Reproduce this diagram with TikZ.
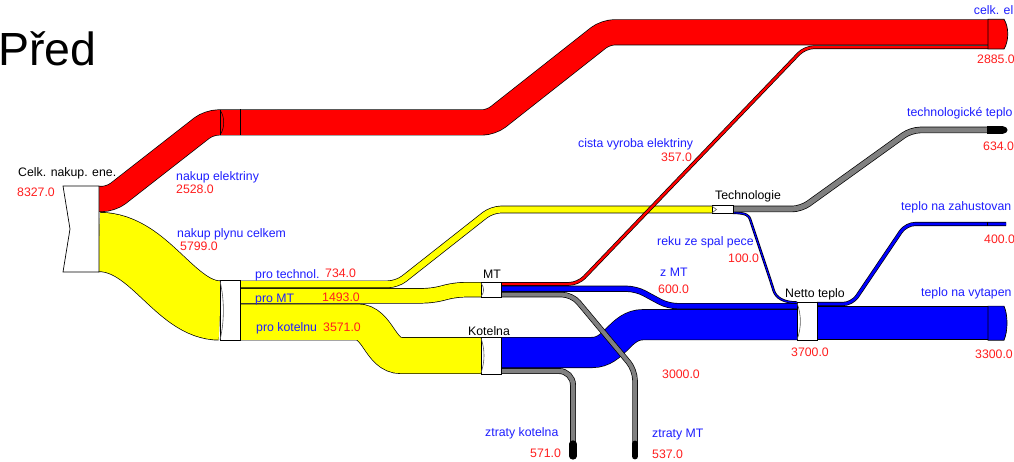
\documentclass[tikz,border=0pt]{standalone}
\usepackage{fontspec}
\setmainfont{Liberation Sans}
\definecolor{cred}{RGB}{255,0,0}
\definecolor{cyel}{RGB}{255,255,0}
\definecolor{cblue}{RGB}{0,0,255}
\definecolor{cgray}{RGB}{128,128,128}
\definecolor{lblue}{RGB}{30,30,255}
\definecolor{lred}{RGB}{255,30,30}
\begin{document}
\begin{tikzpicture}[x=1pt,y=-1pt,
  fl/.style 2 args={draw=black, line width=0.7pt, double=#1, double distance=#2pt, rounded corners=9pt},
  lbl/.style={anchor=base west, inner sep=0pt, font=\fontsize{12.3}{14}\selectfont},
  bl/.style={lbl, text=lblue},
  rd/.style={lbl, text=lred},
  bk/.style={lbl, text=black},
  nodebox/.style={draw=black, line width=0.7pt, fill=white},
  chev/.style={draw=black!65, line width=0.6pt},
  capline/.style={draw=black, line width=0.7pt}
]
\useasboundingbox[fill=white] (0,0) rectangle (1014,462);

% title
\node[anchor=base west, inner sep=0pt, font=\fontsize{46.5}{50}\selectfont] (title) at (-2,65.5) {Před};

% ---------- flows ----------
% nakup elektriny (main red)
\draw[fl={cred}{24.6}] (99,199) -- (111,199) -- (209,122.5) -- (491,122.5) -- (605.5,32.3) -- (988,32.3);
% nakup plynu celkem
\draw[fl={cyel}{58.6}] (99,242) .. controls (150,242) and (175,310.5) .. (220,310.5);
% pro technol.
\draw[fl={cyel}{6.2}] (240,284.3) -- (397,284.3) -- (492,209.5) -- (712,209.5);
% pro MT
\draw[fl={cyel}{14}] (240,295.8) -- (432,295.8) -- (456,289.7) -- (481,289.7);
% pro kotelnu
\draw[fl={cyel}{35.5}] (240,322) -- (348,322) .. controls (378,322) and (380,355.5) .. (410,355.5) -- (481,355.5);
% 3000 Kotelna -> Netto teplo
\draw[fl={cblue}{29.6}] (501,352.5) -- (583,352.5) .. controls (615,352.5) and (620,324.7) .. (652,324.7) -- (797,324.7);
% z MT
\draw[fl={cblue}{4.8}] (501,288.8) -- (636,288.8) -- (668,306.1) -- (797,306.1);
% reku ze spal pece
\draw[fl={cblue}{1.2}] (733,212.8) .. controls (747,212.8) and (749,216) .. (753,228) -- (771,282) .. controls (776,298) and (784,302.6) .. (797,302.6);
% teplo na zahustovani
\draw[fl={cblue}{2.7}] (817,304) -- (852,304) -- (906,224) -- (1006,224);
\draw[capline] (987,221.9) -- (987,226.1);
% teplo na vytapeni
\draw[fl={cblue}{32.7}] (817,323.1) -- (988,323.1);
\draw[capline, fill=cblue] (988,306.1) -- (1004,306.1) .. controls (1008,315) and (1008,331) .. (1004,340.2) -- (988,340.2) -- cycle;
% technologicke teplo
\draw[fl={cgray}{5.1}] (733,209) -- (801,209) -- (911,130) -- (988,130);
\fill[black] (987,126.2) -- (1003,126.2) .. controls (1009,127) and (1009,133) .. (1003,133.8) -- (987,133.8) -- cycle;
% ztraty kotelna
\draw[fl={cgray}{4.5}, rounded corners=14pt] (501,371) -- (573,371) -- (573,446);
\draw[black, line width=7.3pt, line cap=round] (573,444) -- (573,456);
% ztraty MT
\draw[fl={cgray}{4.1}, rounded corners=10pt] (501,294.6) -- (572,294.6) -- (635,370) -- (635,446);
\draw[black, line width=6.9pt, line cap=round] (635,444) -- (635,456);
% cista vyroba elektriny
\draw[fl={cred}{2.3}] (501,283.9) -- (578,283.9) -- (805,47.2) -- (988,47.2);
% celk. el end cap
\draw[capline, fill=cred] (988,19.3) -- (1004,19.3) .. controls (1009,27) and (1009,41) .. (1004,49) -- (988,49) -- cycle;

% ---------- nodes ----------
% Celk. nakup. ene.
\draw[nodebox] (63,186) -- (99,186) -- (99,272) -- (63,272) -- (70,229) -- cycle;
% red intermediate node
\draw[capline] (240,109.5) -- (240,135.5);
\draw[line width=0.5pt] (220,110) -- (220,135);
\draw[line width=0.5pt] (220,110) .. controls (225,117) and (225,128) .. (220,135);
% gas split
\draw[nodebox] (220,280.5) rectangle (240,340.5);
\draw[chev] (220,281) .. controls (224.5,300) and (224.5,321) .. (220,340);
% MT
\draw[nodebox] (481,282) rectangle (501,297.4);
\draw[chev] (481,283) .. controls (484.5,288) and (484.5,292) .. (481,296.5);
% Kotelna
\draw[nodebox] (481,337) rectangle (501,374);
\draw[chev] (481,338) .. controls (485,350) and (485,361) .. (481,373);
% Technologie
\draw[nodebox] (712,205.7) rectangle (733,213.3);
\draw[chev] (712,206.2) -- (716.5,209.5) -- (712,212.8);
% Netto teplo
\draw[nodebox] (797,302) rectangle (817,340.2);
\draw[chev] (797,303) .. controls (801.5,315) and (801.5,328) .. (797,339.5);

% ---------- labels ----------
\node[bk] (l1) at (18,177) {Celk. nakup. ene.};
\node[rd] (v1) at (17,197) {8327.0};
\node[bl] (l2) at (176,181) {nakup elektriny};
\node[rd] (v2) at (176,193.5) {2528.0};
\node[bl] (l3) at (177,238) {nakup plynu celkem};
\node[rd] (v3) at (180,251) {5799.0};
\node[bl] (l4) at (255,278) {pro technol.};
\node[rd] (v4) at (325,277) {734.0};
\node[bl] (l5) at (255,302) {pro MT};
\node[rd] (v5) at (322,301) {1493.0};
\node[bl] (l6) at (256,331) {pro kotelnu};
\node[rd] (v6) at (323,331) {3571.0};
\node[bk] (l7) at (483,278) {MT};
\node[bk] (l8) at (468,335) {Kotelna};
\node[bl] (l9) at (578,148) {cista vyroba elektriny};
\node[rd] (v9) at (661,162) {357.0};
\node[bk] (l10) at (715,200) {Technologie};
\node[bl] (l11) at (907,117) {technologické teplo};
\node[rd] (v11) at (983,150.7) {634.0};
\node[bl] (l12) at (901,211) {teplo na zahustovan};
\node[rd] (v12) at (984,244) {400.0};
\node[bl] (l13) at (657,245.7) {reku ze spal pece};
\node[rd] (v13) at (728,262.7) {100.0};
\node[bl] (l14) at (660,276.7) {z MT};
\node[rd] (v14) at (658,294) {600.0};
\node[bk] (l15) at (785,297) {Netto teplo};
\node[rd] (v15) at (791,356.7) {3700.0};
\node[bl] (l16) at (921,296) {teplo na vytapen};
\node[rd] (v16) at (975,358) {3300.0};
\node[rd] (v17) at (662,378) {3000.0};
\node[bl] (l18) at (485,436) {ztraty kotelna};
\node[rd] (v18) at (530,457) {571.0};
\node[bl] (l19) at (652,437) {ztraty MT};
\node[rd] (v19) at (652,458) {537.0};
\node[bl, anchor=base east] (l20) at (1013.5,15) {celk. el};
\node[rd] (v20) at (977,64) {2885.0};
\end{tikzpicture}
\end{document}
